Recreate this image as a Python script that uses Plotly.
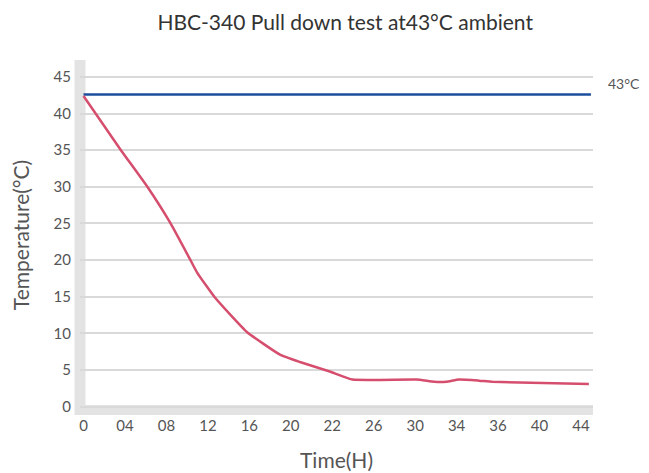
import plotly.graph_objects as go

# Evenly spaced x tick positions with their printed labels
tick_pos = list(range(13))
tick_labels = ["0", "04", "08", "12", "16", "20", "22", "26", "30", "34", "36", "40", "44"]
y_ticks = [0, 5, 10, 15, 20, 25, 30, 35, 40, 45]

# Pull-down curve (x in tick positions, y in °C)
pull_x = [0.0, 0.89, 1.54, 2.09, 2.57, 2.74, 3.17, 3.94, 4.74, 5.22, 5.94, 6.49, 8.03, 8.46, 8.75, 9.06, 9.54, 9.86, 12.19]
pull_y = [42.4, 35.1, 30.0, 25.1, 20.1, 18.3, 14.9, 10.2, 7.1, 6.1, 4.8, 3.7, 3.7, 3.4, 3.4, 3.7, 3.55, 3.4, 3.1]

# Ambient reference line
amb_x = [0.0, 12.24]
amb_y = [42.6, 42.6]
amb_label = "43°C"

fig = go.Figure()
fig.add_trace(go.Scatter(x=amb_x, y=amb_y, mode="lines",
                         line=dict(color="#1b4f9c", width=2.5), hoverinfo="skip"))
fig.add_trace(go.Scatter(x=pull_x, y=pull_y, mode="lines",
                         line=dict(color="#d64e6e", width=2.5, shape="spline", smoothing=0.4),
                         hoverinfo="skip"))

fig.add_annotation(x=1, xref="paper", y=amb_y[0], yref="y", text=amb_label,
                   showarrow=False, xanchor="left", yanchor="middle",
                   xshift=13, yshift=11, font=dict(size=14, color="#555555"))

band = "#e3e3e3"
# thick grey axis bands (left and bottom)
fig.add_shape(type="rect", xref="paper", yref="paper", x0=-0.0107, x1=0.0107, y0=-0.0143, y1=1.0,
              fillcolor=band, line=dict(width=0), layer="below")
fig.add_shape(type="rect", xref="paper", yref="paper", x0=-0.0029, x1=1.0, y0=-0.0143, y1=0.0143,
              fillcolor=band, line=dict(width=0), layer="below")

fig.update_layout(
    width=641, height=465,
    margin=dict(l=71.5, r=56, t=52, b=63, autoexpand=False),
    paper_bgcolor="white", plot_bgcolor="white",
    showlegend=False,
    font=dict(family="Lato, Open Sans, sans-serif", color="#555555"),
    title=dict(text="HBC-340 Pull down test at43°C ambient", x=0.526, xanchor="center",
               y=0.968, yanchor="middle", font=dict(size=21, color="#333333")),
)
fig.update_xaxes(
    range=[-0.085, 12.29], tickvals=tick_pos, ticktext=tick_labels, automargin=False,
    showgrid=False, zeroline=False, showline=False,
    ticks="", ticklabelstandoff=5, tickfont=dict(size=15, color="#555555"),
    title=dict(text="Time(H)", font=dict(size=21, color="#555555"), standoff=20),
)
fig.update_yaxes(
    range=[-0.45, 47.3], tickvals=y_ticks, automargin=False,
    showgrid=True, gridcolor="#d9d9d9", gridwidth=1.5, zeroline=False, showline=False,
    ticks="", ticklabelstandoff=8, tickfont=dict(size=15, color="#555555"),
    title=dict(text="Temperature(°C)", font=dict(size=21, color="#555555"), standoff=19),
)

fig.write_html("out.html")
